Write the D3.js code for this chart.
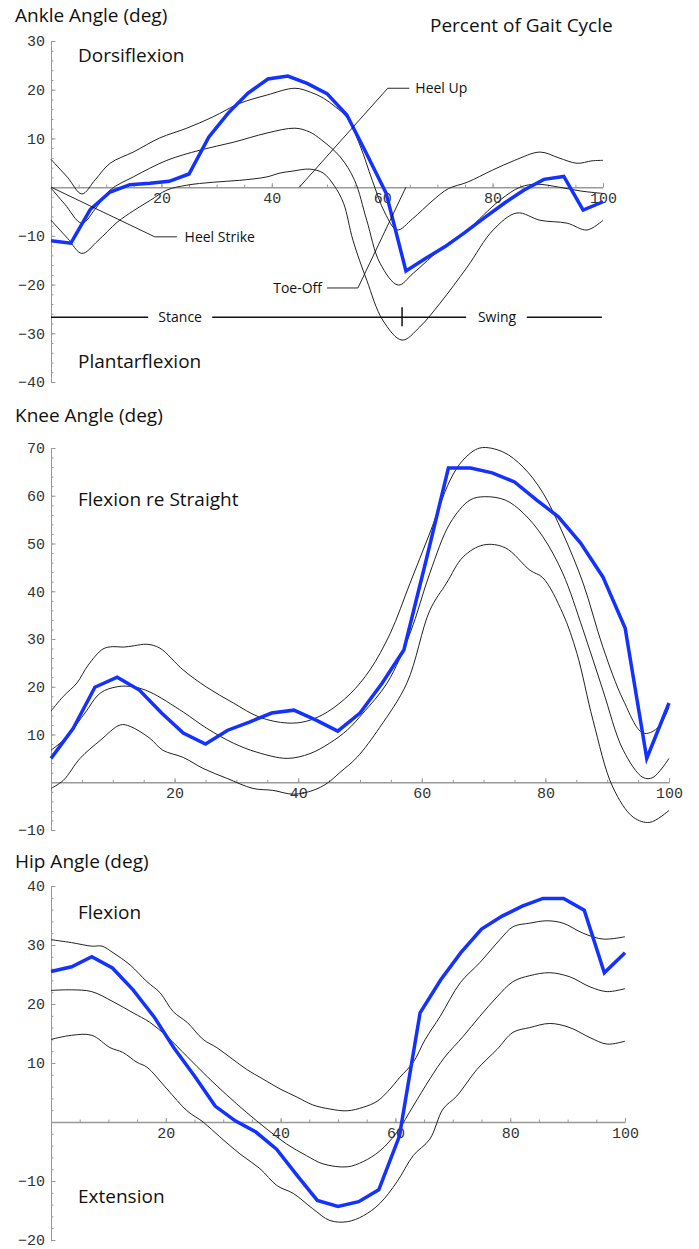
<!DOCTYPE html>
<html lang="en">
<head>
<meta charset="UTF-8">
<title>Joint Angles over the Gait Cycle</title>
<script src="https://d3js.org/d3.v7.min.js"></script>
<style>
  body { margin: 0; background: #fff; }
  .title { font-family: "Open Sans", sans-serif; font-size: 19px; fill: #111; }
  .label { font-family: "Open Sans", sans-serif; font-size: 19px; fill: #111; }
  .note { font-family: "Open Sans", sans-serif; font-size: 14px; fill: #111; }
  .axis path, .axis line { stroke: #999; }
  .axis text { font-family: "Liberation Mono", monospace; font-size: 15px; fill: #333; }
  .sd { fill: none; stroke: #222; stroke-width: 1; }
  .subject { fill: none; stroke: #1432ff; stroke-width: 3.5; stroke-linejoin: miter; }
  .leader { fill: none; stroke: #111; stroke-width: 0.9; }
  .phase { fill: none; stroke: #111; stroke-width: 1.5; }
</style>
</head>
<body>
<svg width="699" height="1249"></svg>
<script>
// percent of gait cycle where the subject was sampled
const subjectX = [0, 3.6, 7.1, 10.7, 14.3, 17.9, 21.4, 25, 28.6, 32.1, 35.7, 39.3, 42.9, 46.4, 50,
                  53.6, 57.1, 60.7, 64.3, 67.9, 71.4, 75, 78.6, 82.1, 85.7, 89.3, 92.9, 96.4, 100];

// ---- ankle ----
const ankleSubject = [-11, -11.5, -4.6, -1, 0.5, 0.8, 1.2, 2.7, 10.3, 15.2, 19.3, 22.2, 22.8, 21.3, 19.2,
                      14.8, 7, -1.2, -17.2, -14.6, -12.2, -9.3, -6.2, -3.3, -0.6, 1.6, 2.2, -4.7, -3];
const ankleUpper = [[0,5.7],[3,2],[5.6,-1.4],[8,1.5],[10.7,4.9],[14.9,7.2],[19.7,10.1],[24.6,12.1],[29.3,14.4],
  [34.2,17.2],[39.1,18.9],[44.2,20.3],[47,19.5],[49.3,18.3],[51.5,16.5],[53.6,14.3],[56,8.5],[58.2,1.4],
  [60.5,-5.3],[62.7,-8.8],[65.5,-6.5],[69.2,-2.7],[72,-0.3],[75.4,1],[80,3.5],[84,5.5],[88.6,7.2],[92,6],
  [95.3,4.9],[98,5.4],[100,5.5]];
const ankleMean = [[0,-0.2],[2.5,-3.5],[5.6,-7.4],[8,-4.5],[10.7,-0.6],[14.9,2.1],[21,5.5],[27,7.6],[33,9.2],
  [39.1,11.1],[44.2,12.1],[46.9,11.3],[49,9.7],[52.4,6.2],[55,1.4],[57.2,-6.8],[59.6,-15.6],[62.9,-20.1],
  [65.6,-17.7],[71,-12.3],[75.4,-8.8],[81.3,-2.7],[85,0],[88,0.6],[92,0],[96,-0.8],[100,-1.3]];
const ankleLower = [[0,-6.8],[3,-10.5],[5.6,-13.6],[8.5,-11],[12,-7.2],[15,-4.8],[18,-2.7],[21,-0.6],[24.6,0.4],
  [29.3,1],[34.2,1.4],[39.1,2.1],[41.5,2.9],[43.8,3.3],[46.9,3.7],[49.3,2.9],[51.3,0.3],[53,-3.3],[54.7,-10.9],
  [57.2,-19.1],[60.1,-27.3],[63.6,-31.4],[66.8,-28.7],[70.5,-23.8],[75.4,-16.4],[80.1,-8.8],[84.4,-5.3],
  [88.6,-6.8],[93.5,-7.4],[97.1,-8.8],[100,-6.8]];

// ---- knee ----
const kneeSubject = [5, 11.3, 19.9, 22, 19.3, 14.5, 10.3, 8, 10.9, 12.6, 14.5, 15.1, 13, 10.7, 14.5,
                     20.8, 27.7, 46.5, 65.8, 65.8, 64.8, 62.9, 59.1, 55.6, 50.1, 43, 32.3, 5, 16.6];
const kneeUpper = [[0,14.9],[2,18],[4.2,20.8],[6,24.5],[8.4,27.9],[10,28.4],[11.7,28.3],[13.5,28.6],[15.5,28.9],
  [17.6,28.1],[21.4,23.5],[25.2,19.9],[29.5,16.6],[33.8,13.6],[38.2,12.4],[41.4,12.8],[44.7,14.7],[48.4,18.5],
  [51.6,23.5],[54.9,31.2],[58.1,41.7],[61.3,52.2],[64.6,63.3],[66.7,67.5],[69.4,70],[73.1,69.2],[76.4,66],
  [79.6,60.6],[82.8,52.2],[86.1,41.7],[89.3,28.3],[92.6,17.2],[95.8,10.3],[98.1,11.3],[100,15.7]];
const kneeMean = [[0,6.7],[2,8.8],[3.4,10.9],[5.5,14.5],[8,18.7],[10.7,20],[13.3,20],[16,18.9],[21.4,14.7],
  [25.2,11.3],[29.5,8.2],[33.3,6.3],[38.2,5],[41.9,6],[45.1,8.2],[48,11],[50.5,14.5],[54.4,20.8],[58.1,31.2],
  [61.3,43.8],[64.6,54.3],[67.8,59.1],[70.2,59.8],[73.5,59.1],[76.4,56.4],[79.6,51.4],[82.8,43.8],[86.1,31.9],
  [89.3,19.3],[92.6,6.7],[95.8,1],[97.4,1],[100,5]];
const kneeLower = [[0,-1.3],[2,0.4],[4.7,5],[8,8.8],[11.2,12],[12.8,11.7],[16,9.2],[18.1,6.7],[21.4,5.2],
  [24.6,2.9],[28.5,0.8],[32.7,-1.3],[35.9,-1.7],[39.2,-2.5],[42.4,-1.7],[44.7,-0.2],[46.8,2.1],[49.5,5.2],
  [53.2,11.5],[57.6,20.8],[61.3,36],[64,41.7],[66.7,47.2],[70,49.7],[73.5,49.1],[77.5,44.4],[79.6,42.8],
  [82.8,35.4],[85.1,27],[87.7,13],[90.9,-1],[94.2,-7.3],[96.9,-8.4],[100,-5.9]];

// ---- hip ----
const hipSubject = [25.5, 26.3, 28, 26.1, 22.4, 17.9, 12.6, 7.8, 2.7, 0.2, -1.7, -4.6, -9.1, -13.3, -14.3,
                    -13.5, -11.5, -2.4, 18.5, 24.1, 28.7, 32.7, 34.9, 36.6, 37.9, 37.9, 35.9, 25.3, 28.7];
const hipUpper = [[0,30.9],[3.6,30.4],[7.1,29.8],[8.9,29.8],[10.8,28.7],[13.8,26.6],[16.7,23.8],[19,21.9],
  [21.3,18.7],[23.7,16.9],[26.5,14],[28.9,12.6],[31.7,10.6],[34.1,8.9],[36.9,7.3],[39.9,5.6],[42.9,4.2],
  [45.6,2.9],[48.6,2.2],[51.6,1.9],[54.4,2.5],[56.8,3.5],[58.7,5.2],[60.8,7.6],[63.1,10.1],[65.2,14],
  [67.8,17.9],[71.3,23.6],[74.7,27],[78.2,30.9],[80.5,33.1],[83.4,33.7],[86.4,34.1],[89.2,33.7],[92.7,32],
  [96.2,31],[100,31.4]];
const hipMean = [[0,22.3],[3.6,22.4],[7.1,22.1],[10.8,20.4],[14.3,18.5],[17.2,16.9],[20.2,14.5],[23.7,11.1],
  [27.2,7.7],[30.6,4.6],[34.1,1.6],[37.6,-1.2],[41,-3.7],[44.5,-5.7],[47.4,-7.1],[51.6,-7.6],[54.4,-6.7],
  [57.3,-4.9],[60.3,-1.7],[63.1,2.7],[66,7.3],[68.6,11],[71.8,14.5],[74.7,17.9],[77.7,21.2],[80.5,23.8],
  [83.4,24.8],[86.9,25.3],[90.4,24.6],[93.9,22.9],[96.9,22.1],[100,22.6]];
const hipLower = [[0,14],[3.6,14.7],[7.1,14.7],[10.3,12.6],[12.5,11.8],[15,10.1],[16.7,9.3],[20.2,5.6],
  [23.7,1.9],[26.5,0],[29.4,-2.5],[32.9,-5.4],[36.4,-7.9],[39.4,-10.8],[42.2,-12.1],[45.6,-14.7],[48.6,-16.7],
  [51.6,-16.9],[54.4,-15.9],[57.3,-13.8],[60.3,-10.1],[63.1,-5.7],[66,-2.9],[68.3,2.2],[70.7,4.4],[74.2,8.9],
  [77.7,12.3],[80.5,15.2],[83.4,16],[86.9,16.7],[90.4,16],[93.9,14.3],[96.9,13.2],[100,13.7]];

// tick labels
const xTickLabels = [20, 40, 60, 80, 100];
const xMinorTicks = [5, 10, 15, 20, 25, 30, 35, 40, 45, 50, 55, 60, 65, 70, 75, 80, 85, 90, 95, 100];
const ankleYTicks = [30, 20, 10, -10, -20, -30, -40];
const kneeYTicks = [70, 60, 50, 40, 30, 20, 10, -10];
const hipYTicks = [40, 30, 20, 10, -10, -20];

// ankle annotations, in (percent, degrees)
const heelStrikeLeader = [[0, 0], [18.8, -10.2], [22.8, -10.2]];
const heelUpLeader = [[45, 0], [61, 20.3], [64.9, 20.3]];
const toeOffLeader = [[64.3, 0], [55.6, -20.7], [50, -20.7]];
const phaseY = -26.7;
const stanceSegments = [[0, 17.6], [29.2, 75.2], [86.2, 99.8]];
const toeOffTick = 63.6;

const svg = d3.select("svg");

function minorRange(dom) {
  const out = [];
  for (let v = dom[0]; v <= dom[1]; v += 2) out.push(v);
  return out;
}

function drawPanel(p) {
  const x = d3.scaleLinear().domain([0, 100]).range(p.xRange);
  const y = d3.scaleLinear().domain(p.yDomain).range(p.yRange);
  const g = svg.append("g");

  // y axis: minor ticks, then labelled ticks
  g.append("g").attr("class", "axis")
    .attr("transform", `translate(${x(0)},0)`)
    .call(d3.axisRight(y).tickValues(minorRange(p.yDomain)).tickSize(2.5).tickFormat(""))
    .call(a => a.select(".domain").remove());
  g.append("g").attr("class", "axis")
    .attr("transform", `translate(${x(0)},0)`)
    .call(d3.axisLeft(y).tickValues(p.yTicks).tickSizeInner(-4.5).tickSizeOuter(0).tickPadding(6));

  // x axis at zero
  g.append("g").attr("class", "axis")
    .attr("transform", `translate(0,${y(0)})`)
    .call(d3.axisBottom(x).tickValues(xMinorTicks).tickSize(-2.5).tickFormat(""))
    .call(a => a.select(".domain").remove());
  g.append("g").attr("class", "axis x")
    .attr("transform", `translate(0,${y(0)})`)
    .call(d3.axisBottom(x).tickValues(xTickLabels).tickSizeInner(-4).tickSizeOuter(0).tickPadding(5))
    .call(a => a.select(".domain").attr("stroke-width", 1.5));

  const smooth = d3.line().x(d => x(d[0])).y(d => y(d[1])).curve(d3.curveCatmullRom.alpha(0.5));
  [p.upper, p.mean, p.lower].forEach(c => {
    g.append("path").attr("class", "sd").attr("d", smooth(c));
  });

  const straight = d3.line().x((d, i) => x(subjectX[i])).y(d => y(d));
  g.append("path").attr("class", "subject").attr("d", straight(p.subject));

  return { g, x, y };
}

const ankle = drawPanel({
  xRange: [51, 603], yDomain: [-40, 30], yRange: [382, 41], yTicks: ankleYTicks,
  upper: ankleUpper, mean: ankleMean, lower: ankleLower, subject: ankleSubject
});
const knee = drawPanel({
  xRange: [51, 669], yDomain: [-10, 70], yRange: [830, 448], yTicks: kneeYTicks,
  upper: kneeUpper, mean: kneeMean, lower: kneeLower, subject: kneeSubject
});
const hip = drawPanel({
  xRange: [51, 625], yDomain: [-20, 40], yRange: [1240, 886], yTicks: hipYTicks,
  upper: hipUpper, mean: hipMean, lower: hipLower, subject: hipSubject
});

// ankle annotations
const ax = ankle.x, ay = ankle.y;
const leader = d3.line().x(d => ax(d[0])).y(d => ay(d[1]));
[heelStrikeLeader, heelUpLeader, toeOffLeader].forEach(l => {
  ankle.g.append("path").attr("class", "leader").attr("d", leader(l));
});
ankle.g.append("text").attr("class", "note").attr("x", ax(24.2)).attr("y", ay(-10.2)).attr("dy", "0.35em").text("Heel Strike");
ankle.g.append("text").attr("class", "note").attr("x", ax(66)).attr("y", ay(20.3)).attr("dy", "0.35em").text("Heel Up");
ankle.g.append("text").attr("class", "note").attr("x", ax(49.1)).attr("y", ay(-20.7)).attr("dy", "0.35em")
  .attr("text-anchor", "end").text("Toe-Off");

stanceSegments.forEach(s => {
  ankle.g.append("line").attr("class", "phase")
    .attr("x1", ax(s[0])).attr("x2", ax(s[1])).attr("y1", ay(phaseY)).attr("y2", ay(phaseY));
});
ankle.g.append("line").attr("class", "phase")
  .attr("x1", ax(toeOffTick)).attr("x2", ax(toeOffTick)).attr("y1", ay(phaseY) - 10).attr("y2", ay(phaseY) + 9);
ankle.g.append("text").attr("class", "note").attr("font-size", 15).attr("x", ax(23.4)).attr("y", ay(phaseY))
  .attr("dy", "0.35em").attr("text-anchor", "middle").text("Stance");
ankle.g.append("text").attr("class", "note").attr("font-size", 15).attr("x", ax(80.8)).attr("y", ay(phaseY))
  .attr("dy", "0.35em").attr("text-anchor", "middle").text("Swing");

// titles and region labels
const texts = [
  { t: "Ankle Angle (deg)", x: 15, y: 22, c: "title" },
  { t: "Percent of Gait Cycle", x: 430, y: 32, c: "title" },
  { t: "Dorsiflexion", x: 78, y: 62, c: "label" },
  { t: "Plantarflexion", x: 78, y: 368, c: "label" },
  { t: "Knee Angle (deg)", x: 15, y: 422, c: "title" },
  { t: "Flexion re Straight", x: 78, y: 506, c: "label" },
  { t: "Hip Angle (deg)", x: 15, y: 868, c: "title" },
  { t: "Flexion", x: 78, y: 919, c: "label" },
  { t: "Extension", x: 78, y: 1203, c: "label" }
];
svg.selectAll("text.head").data(texts).join("text")
  .attr("class", d => "head " + d.c)
  .attr("x", d => d.x).attr("y", d => d.y)
  .text(d => d.t);
</script>
</body>
</html>
